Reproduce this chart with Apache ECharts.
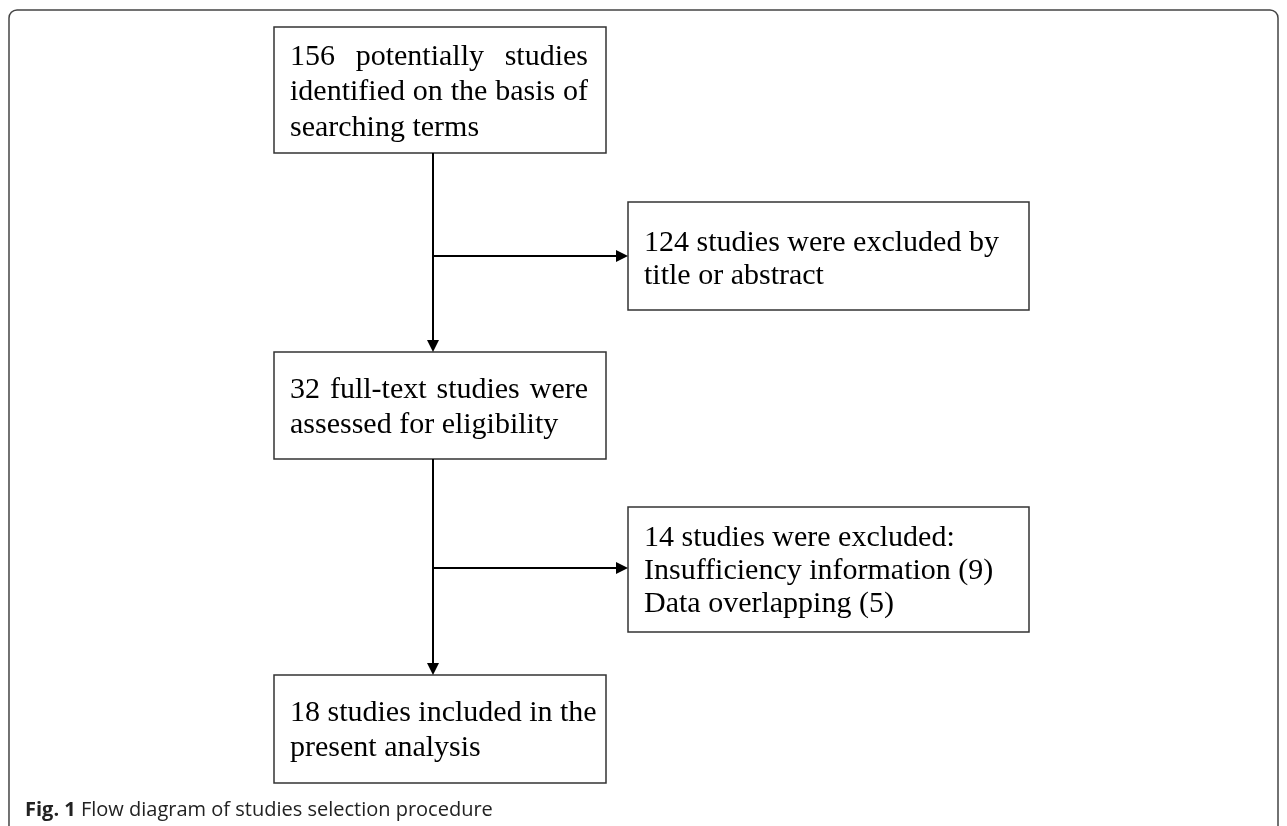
<!DOCTYPE html>
<html><head><meta charset="utf-8">
<script src="https://cdn.jsdelivr.net/npm/echarts@6/dist/echarts.min.js"></script>
<style>html,body{margin:0;padding:0;background:#fff}#c{width:1287px;height:826px}</style>
</head><body><div id="c"></div>
<script>
const boxLines = [
  ["156 potentially studies","identified on the basis of","searching terms"],
  ["124 studies were excluded by","title or abstract"],
  ["32 full-text studies were","assessed for eligibility"],
  ["14 studies were excluded:","Insufficiency information (9)","Data overlapping (5)"],
  ["18 studies included in the","present analysis"]
];
const justified = [true,false,true,false,false];
const caption = "Flow diagram of studies selection procedure";
// layout: [x, y, w, h, first line center y, line step]
const boxes = [[274,27,332,126,57,35.5],[628,202,401,108,243,33],[274,352,332,107,390,35],[628,507,401,125,538,33],[274,675,332,108,713,35]];
const fam = '"Liberation Serif", "DejaVu Serif", serif';
const fs = 30;
const font = fs+'px '+fam;
const cv = document.createElement('canvas').getContext('2d'); cv.font = font;
const g = [];
g.push({type:'rect',shape:{x:9,y:10,width:1269,height:840,r:8},style:{fill:'none',stroke:'#444',lineWidth:1.5}});
boxes.forEach((b,i)=>{
  g.push({type:'rect',shape:{x:b[0],y:b[1],width:b[2],height:b[3]},style:{fill:'#fff',stroke:'#333',lineWidth:1.5}});
  const left = b[0]+16, right = b[0]+b[2]-18;
  boxLines[i].forEach((ln,j)=>{
    const y = b[4]+j*b[5];
    const isLast = j===boxLines[i].length-1;
    if(justified[i] && !isLast){
      const words = ln.split(' ');
      const wsum = words.reduce((s,w)=>s+cv.measureText(w).width,0);
      const gap = (right-left-wsum)/(words.length-1);
      let x = left;
      words.forEach(w=>{
        g.push({type:'text',x:x,y:y,style:{text:w,font:font,fill:'#000',verticalAlign:'middle'}});
        x += cv.measureText(w).width+gap;
      });
    } else {
      g.push({type:'text',x:left,y:y,style:{text:ln,font:font,fill:'#000',verticalAlign:'middle'}});
    }
  });
});
function line(x1,y1,x2,y2){g.push({type:'line',shape:{x1,y1,x2,y2},style:{stroke:'#000',lineWidth:2}});}
function arrowHead(x,y,dir){
  const p = dir==='down'?[[x,y],[x-6,y-12],[x+6,y-12]]:[[x,y],[x-12,y-6],[x-12,y+6]];
  g.push({type:'polygon',shape:{points:p},style:{fill:'#000'}});
}
line(433,153,433,340); arrowHead(433,352,'down');
line(433,459,433,663); arrowHead(433,675,'down');
line(433,256,616,256); arrowHead(628,256,'right');
line(433,568,616,568); arrowHead(628,568,'right');
g.push({type:'text',x:25,y:810,style:{text:'{b|Fig. 1} '+caption,font:'20px "Open Sans", sans-serif',fill:'#222',verticalAlign:'middle',rich:{b:{fontWeight:'bold',fontSize:20,fontFamily:'Open Sans'}}}});
const chart = echarts.init(document.getElementById('c'));
chart.setOption({graphic:g});
</script></body></html>
